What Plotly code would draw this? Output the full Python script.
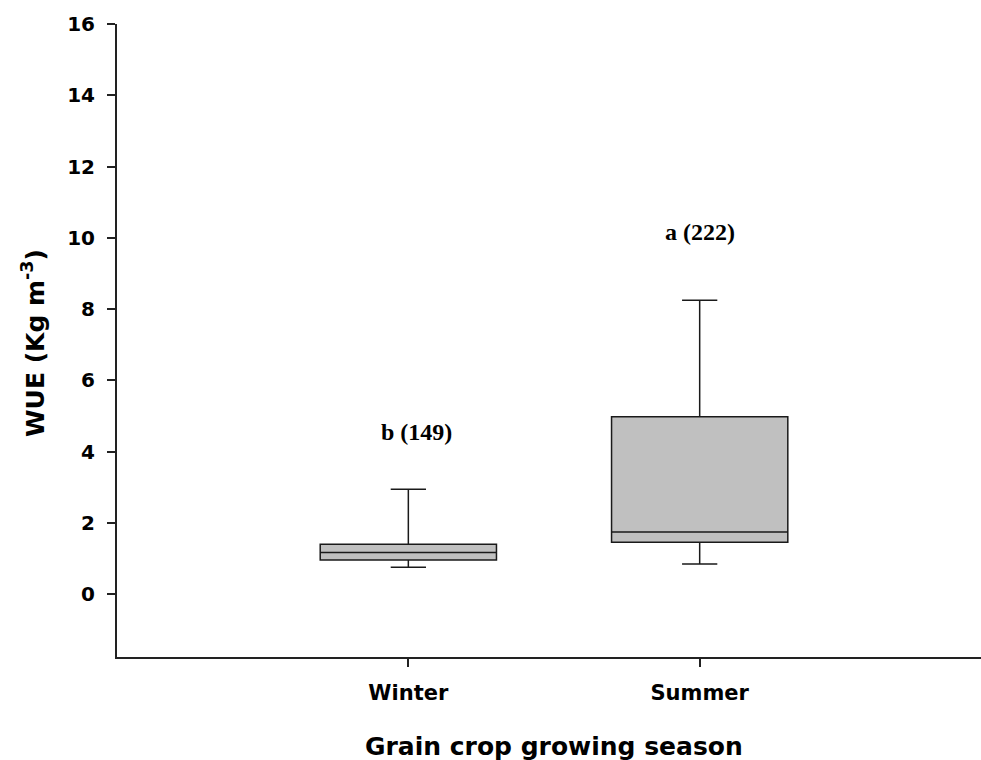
import plotly.graph_objects as go

# Seasonal WUE summary statistics (Kg m^-3)
seasons = ["Winter", "Summer"]
lower_whisker = [0.76, 0.85]
q1 = [0.96, 1.46]
median = [1.17, 1.75]
q3 = [1.40, 4.98]
upper_whisker = [2.95, 8.25]

# Significance letters with sample sizes, and the height they sit at
group_labels = ["b (149)", "a (222)"]
label_y = [4.56, 10.17]

y_ticks = [0, 2, 4, 6, 8, 10, 12, 14, 16]

sans = "DejaVu Sans"
serif = "Liberation Serif"

fig = go.Figure()
fig.add_trace(go.Box(
    x=seasons,
    q1=q1,
    median=median,
    q3=q3,
    lowerfence=lower_whisker,
    upperfence=upper_whisker,
    fillcolor="#c0c0c0",
    line=dict(color="#1a1a1a", width=1.5),
    width=0.605,
    whiskerwidth=0.2,
    boxpoints=False,
    hoverinfo="skip",
    showlegend=False,
))

for s, txt, yv in zip(seasons, group_labels, label_y):
    fig.add_annotation(
        x=s, y=yv, text=txt, showarrow=False,
        xanchor="center", yanchor="middle",
        xshift=8 if s == "Winter" else 0,
        font=dict(family=serif, size=24, color="black", weight="bold"),
    )

# Axis titles
fig.add_annotation(
    xref="paper", yref="paper", x=(554 - 117) / 864, y=-(746 - 657) / 633,
    text="Grain crop growing season", showarrow=False,
    xanchor="center", yanchor="middle",
    font=dict(family=sans, size=25, color="black", weight="bold"),
)
fig.add_annotation(
    xref="paper", yref="paper", x=(33 - 117) / 864, y=(657 - 343) / 633,
    text="WUE (Kg m<sup>-3</sup>)", showarrow=False, textangle=-90,
    xanchor="center", yanchor="middle",
    font=dict(family=sans, size=25, color="black", weight="bold"),
)

fig.update_layout(
    width=981, height=760,
    margin=dict(l=117, r=0, t=24, b=103),
    paper_bgcolor="white", plot_bgcolor="white",
    xaxis=dict(
        type="category", range=[-1, 1.9656],
        showgrid=False, zeroline=False,
        showline=True, linecolor="#222", linewidth=2,
        ticks="outside", ticklen=8, tickwidth=1.5, tickcolor="#222",
        ticklabelstandoff=8,
        tickfont=dict(family=sans, size=21, color="black", weight="bold"),
    ),
    yaxis=dict(
        range=[-1.76, 16], tickvals=y_ticks,
        showgrid=False, zeroline=False,
        showline=True, linecolor="#222", linewidth=2,
        ticks="outside", ticklen=8, tickwidth=1.5, tickcolor="#222",
        ticklabelstandoff=8,
        tickfont=dict(family=sans, size=20, color="black", weight="bold"),
    ),
)

fig.write_html("out.html")
